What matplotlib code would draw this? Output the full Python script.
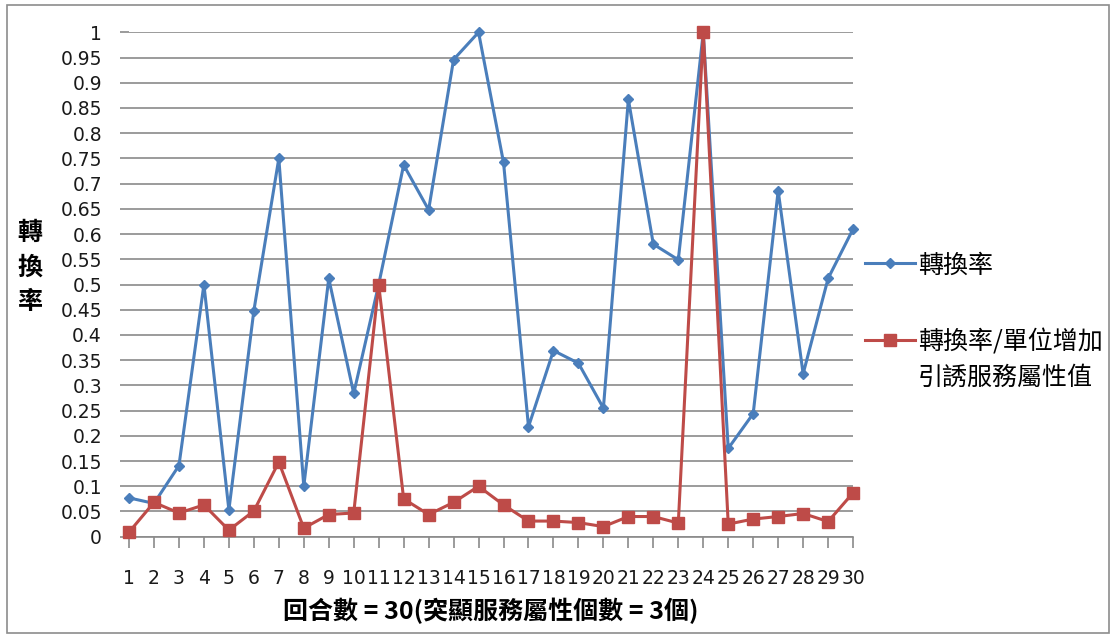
import numpy as np
import matplotlib
matplotlib.use('Agg')
import matplotlib.pyplot as plt
from matplotlib.patches import Rectangle

CJK = ['Noto Sans CJK TC', 'DejaVu Sans']

# 回合 1..30
rounds = list(range(1, 31))

# 轉換率
conv_rate = [0.077, 0.066, 0.141, 0.500, 0.053, 0.448, 0.750, 0.100, 0.512, 0.284,
             0.500, 0.737, 0.648, 0.946, 1.000, 0.742, 0.218, 0.369, 0.344, 0.255,
             0.867, 0.580, 0.549, 1.000, 0.175, 0.244, 0.686, 0.323, 0.512, 0.610]

# 轉換率/單位增加引誘服務屬性值
conv_per_unit = [0.009, 0.068, 0.047, 0.063, 0.013, 0.051, 0.148, 0.017, 0.044, 0.047,
                 0.500, 0.075, 0.044, 0.068, 0.100, 0.063, 0.031, 0.031, 0.028, 0.020,
                 0.040, 0.040, 0.027, 1.000, 0.025, 0.035, 0.040, 0.046, 0.030, 0.087]

y_ticks = np.round(np.arange(0, 1.0001, 0.05), 2)

BLUE = '#4a7ebb'
RED = '#be4b48'
GRID = '#8a8a8a'

fig = plt.figure(figsize=(11.16, 6.35), dpi=100)
ax = fig.add_axes([0.1156, 0.1548, 0.6488, 0.7943])

ax.plot(rounds, conv_rate, '-D', color=BLUE, lw=2.2, markersize=5.5,
        markeredgewidth=1, clip_on=False, zorder=3, label='轉換率')
ax.plot(rounds, conv_per_unit, '-s', color=RED, lw=2.2, markersize=8.5,
        markeredgewidth=1, clip_on=False, zorder=4,
        label='轉換率/單位增加\n引誘服務屬性值')

ax.set_xlim(1, 30)
ax.set_ylim(0, 1)
ax.set_yticks(y_ticks)
ax.set_yticklabels([f'{v:g}' for v in y_ticks])
ax.set_xticks(rounds)
ax.set_xticklabels([str(r) for r in rounds])

ax.grid(axis='y', color=GRID, lw=1.2)
ax.set_axisbelow(True)
for side in ('top', 'right', 'left'):
    ax.spines[side].set_visible(False)
ax.spines['bottom'].set_color(GRID)
ax.spines['bottom'].set_linewidth(1.2)

ax.tick_params(axis='y', length=6.5, width=1.2, color=GRID, pad=13,
               labelsize=13.5, labelcolor='#1a1a1a')
ax.tick_params(axis='x', length=8, width=1.2, color=GRID, pad=15,
               labelsize=13.5, labelcolor='#1a1a1a')

ax.set_xlabel('回合數 = 30(突顯服務屬性個數 = 3個)', family=CJK,
              fontsize=18, fontweight='bold', labelpad=7)
fig.text(0.027, 0.579, '轉\n換\n率', family=CJK, fontsize=18,
         fontweight='bold', ha='center', va='center', linespacing=1.55)

leg = ax.legend(loc='upper left', bbox_to_anchor=(0.766, 0.618),
                bbox_transform=fig.transFigure, frameon=False,
                prop={'family': CJK, 'size': 18}, handlelength=2.0,
                handleheight=1.2, handletextpad=0.12, labelspacing=2.05,
                borderaxespad=0)
for t in leg.get_texts():
    t.set_linespacing(1.45)
# keep the key of the two-line entry level with its first line
for item in leg._legend_handle_box.get_children()[0].get_children():
    item.align = 'top'

# outer chart frame
fig.patches.append(Rectangle((0.006, 0.003), 0.988, 0.989, transform=fig.transFigure,
                             fill=False, edgecolor='#8c8c8c', lw=1.2))

fig.savefig('out.png', dpi=100, facecolor='white')
